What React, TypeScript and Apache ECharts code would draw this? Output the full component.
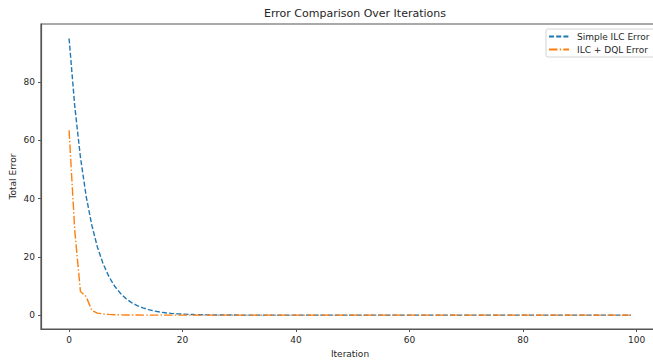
import React, { useEffect, useRef } from "react";
import * as echarts from "echarts";

const titleText = "Error Comparison Over Iterations";
const xAxisName = "Iteration";
const yAxisName = "Total Error";
const seriesNames = ["Simple ILC Error", "ILC + DQL Error"];
const xTicks = [0, 20, 40, 60, 80, 100];
const yTicks = [0, 20, 40, 60, 80];

const simpleIlc = [
  95.0, 71.7, 54.2, 40.9, 30.9, 23.3, 17.6, 13.3, 10.0, 7.6,
  5.7, 4.3, 3.3, 2.5, 1.9, 1.4, 1.06, 0.8, 0.6, 0.46,
  0.35, 0.26, 0.2, 0.15, 0.11, 0.08, 0.06, 0.05, 0.04, 0.03,
  0.02, 0.02, 0.01, 0.01, 0.01, 0.01, 0, 0, 0, 0,
  0, 0, 0, 0, 0, 0, 0, 0, 0, 0,
  0, 0, 0, 0, 0, 0, 0, 0, 0, 0,
  0, 0, 0, 0, 0, 0, 0, 0, 0, 0,
  0, 0, 0, 0, 0, 0, 0, 0, 0, 0,
  0, 0, 0, 0, 0, 0, 0, 0, 0, 0,
  0, 0, 0, 0, 0, 0, 0, 0, 0, 0,
];

const ilcDql = [
  63.5, 29.0, 8.1, 6.4, 1.6, 0.7, 0.4, 0.25, 0.15, 0.1,
  0.06, 0.04, 0.03, 0.02, 0.01, 0.01, 0, 0, 0, 0,
  0, 0, 0, 0, 0, 0, 0, 0, 0, 0,
  0, 0, 0, 0, 0, 0, 0, 0, 0, 0,
  0, 0, 0, 0, 0, 0, 0, 0, 0, 0,
  0, 0, 0, 0, 0, 0, 0, 0, 0, 0,
  0, 0, 0, 0, 0, 0, 0, 0, 0, 0,
  0, 0, 0, 0, 0, 0, 0, 0, 0, 0,
  0, 0, 0, 0, 0, 0, 0, 0, 0, 0,
  0, 0, 0, 0, 0, 0, 0, 0, 0, 0,
];

const iterations = simpleIlc.map((_, i) => i);

const FONT = "DejaVu Sans";
const SPINE = "#555";
const TEXT = "#262626";

export default function App() {
  const ref = useRef<HTMLDivElement>(null);
  useEffect(() => {
    if (!ref.current) return;
    const chart = echarts.init(ref.current, null, { renderer: "svg" });
    chart.setOption({
      animation: false,
      backgroundColor: "#fff",
      title: {
        text: titleText,
        left: 350,
        textAlign: "center",
        top: 3,
        textStyle: { fontFamily: FONT, fontSize: 11, fontWeight: "normal", color: TEXT },
      },
      legend: {
        orient: "vertical",
        left: 546,
        top: 29,
        padding: [3, 8, 3, 2],
        itemGap: 4,
        itemWidth: 20,
        itemHeight: 9,
        borderColor: "#d4d4d4",
        borderWidth: 1,
        borderRadius: 2,
        backgroundColor: "#fff",
        itemStyle: { opacity: 0, borderWidth: 0 },
        textStyle: { fontFamily: FONT, fontSize: 9, color: TEXT, padding: [0, 0, 0, 3] },
        data: seriesNames,
      },
      grid: {
        left: 41,
        top: 24,
        width: 618,
        height: 305,
        show: true,
        borderColor: SPINE,
        borderWidth: 1.2,
        containLabel: false,
        outerBoundsMode: "none",
      },
      xAxis: {
        type: "value",
        min: -4.95,
        max: 103.95,
        name: xAxisName,
        nameLocation: "middle",
        nameGap: 20,
        nameMoveOverlap: false,
        nameTextStyle: { fontFamily: FONT, fontSize: 9, color: TEXT },
        axisLine: { show: true, onZero: false, lineStyle: { color: SPINE, width: 1.2 } },
        axisTick: { show: true, length: 3, customValues: xTicks, lineStyle: { color: SPINE } },
        axisLabel: { customValues: xTicks, margin: 6, fontFamily: FONT, fontSize: 9, color: TEXT },
        splitLine: { show: false },
      },
      yAxis: {
        type: "value",
        min: -4.76,
        max: 99.96,
        name: yAxisName,
        nameLocation: "middle",
        nameGap: 24,
        nameMoveOverlap: false,
        nameRotate: 90,
        nameTextStyle: { fontFamily: FONT, fontSize: 9, color: TEXT },
        axisLine: { show: true, onZero: false, lineStyle: { color: SPINE, width: 1.2 } },
        axisTick: { show: true, length: 3, customValues: yTicks, lineStyle: { color: SPINE } },
        axisLabel: { customValues: yTicks, margin: 6, fontFamily: FONT, fontSize: 9, color: TEXT },
        splitLine: { show: false },
      },
      series: [
        {
          name: seriesNames[0],
          type: "line",
          data: simpleIlc.map((v, i) => [iterations[i], v]),
          showSymbol: false,
          symbol: "none",
          color: "#1f77b4",
          lineStyle: { color: "#1f77b4", width: 1.4, type: [5, 2.2] },
        },
        {
          name: seriesNames[1],
          type: "line",
          data: ilcDql.map((v, i) => [iterations[i], v]),
          showSymbol: false,
          symbol: "none",
          color: "#ff7f0e",
          lineStyle: { color: "#ff7f0e", width: 1.4, type: [8.5, 2.2, 1.4, 2.2] },
        },
      ],
    });
    return () => chart.dispose();
  }, []);
  return (
    <div
      ref={ref}
      style={{ position: "fixed", left: 0, top: 0, width: 653, height: 361, background: "#fff" }}
    />
  );
}
